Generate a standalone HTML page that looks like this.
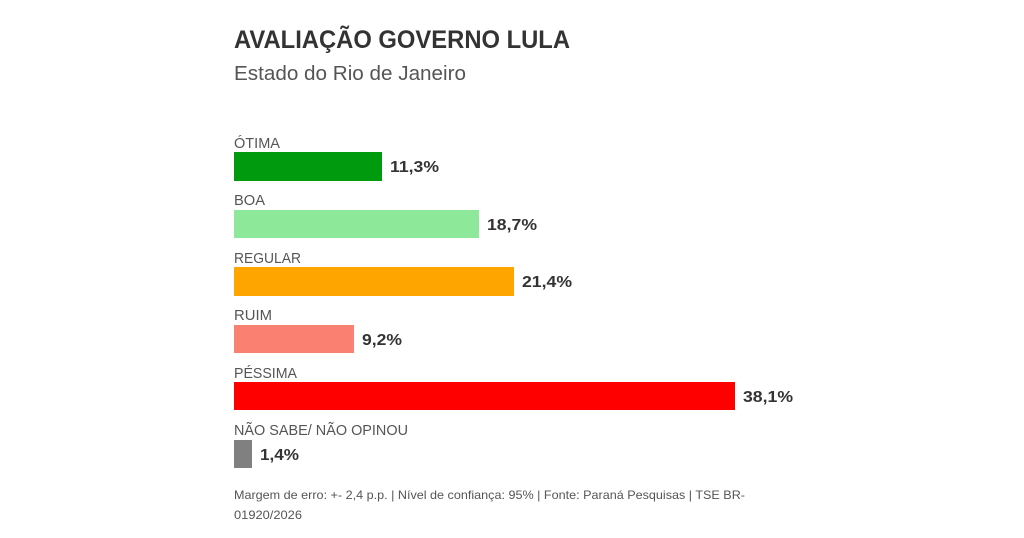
<!DOCTYPE html>
<html><head><meta charset="utf-8"><style>
html,body{margin:0;padding:0;background:#fff;}
svg{display:block;font-family:"Liberation Sans",sans-serif;}
</style></head><body>
<svg width="1024" height="538" viewBox="0 0 1024 538">
<rect width="1024" height="538" fill="#fff"/>
<text x="234" y="48" font-size="25" font-weight="bold" fill="#333" textLength="336" lengthAdjust="spacingAndGlyphs">AVALIAÇÃO GOVERNO LULA</text>
<text x="234" y="80" font-size="20" fill="#555" textLength="232" lengthAdjust="spacingAndGlyphs">Estado do Rio de Janeiro</text>
<g font-size="15" fill="#555">
<text x="234" y="148" textLength="46" lengthAdjust="spacingAndGlyphs">ÓTIMA</text>
<text x="234" y="205" textLength="31" lengthAdjust="spacingAndGlyphs">BOA</text>
<text x="234" y="263" textLength="67" lengthAdjust="spacingAndGlyphs">REGULAR</text>
<text x="234" y="320" textLength="38" lengthAdjust="spacingAndGlyphs">RUIM</text>
<text x="234" y="378" textLength="63" lengthAdjust="spacingAndGlyphs">PÉSSIMA</text>
<text x="234" y="435" textLength="174" lengthAdjust="spacingAndGlyphs">NÃO SABE/ NÃO OPINOU</text>
</g>
<rect x="234" y="152" width="148" height="29" fill="#009a0e"/>
<rect x="234" y="210" width="245" height="28" fill="#8de89a"/>
<rect x="234" y="267" width="280" height="29" fill="#ffa500"/>
<rect x="234" y="325" width="120" height="28" fill="#fa8072"/>
<rect x="234" y="382" width="501" height="28" fill="#ff0000"/>
<rect x="234" y="440" width="18" height="28" fill="#808080"/>
<g font-size="16" font-weight="bold" fill="#333">
<text x="390" y="172" textLength="49" lengthAdjust="spacingAndGlyphs">11,3%</text>
<text x="487" y="230" textLength="50" lengthAdjust="spacingAndGlyphs">18,7%</text>
<text x="522" y="287" textLength="50" lengthAdjust="spacingAndGlyphs">21,4%</text>
<text x="362" y="345" textLength="40" lengthAdjust="spacingAndGlyphs">9,2%</text>
<text x="743" y="402" textLength="50" lengthAdjust="spacingAndGlyphs">38,1%</text>
<text x="260" y="460" textLength="39" lengthAdjust="spacingAndGlyphs">1,4%</text>
</g>
<g font-size="12" fill="#555">
<text x="234" y="499" textLength="511" lengthAdjust="spacingAndGlyphs">Margem de erro: +- 2,4 p.p. | Nível de confiança: 95% | Fonte: Paraná Pesquisas | TSE BR-</text>
<text x="234" y="519" textLength="68" lengthAdjust="spacingAndGlyphs">01920/2026</text>
</g>
</svg>
</body></html>
